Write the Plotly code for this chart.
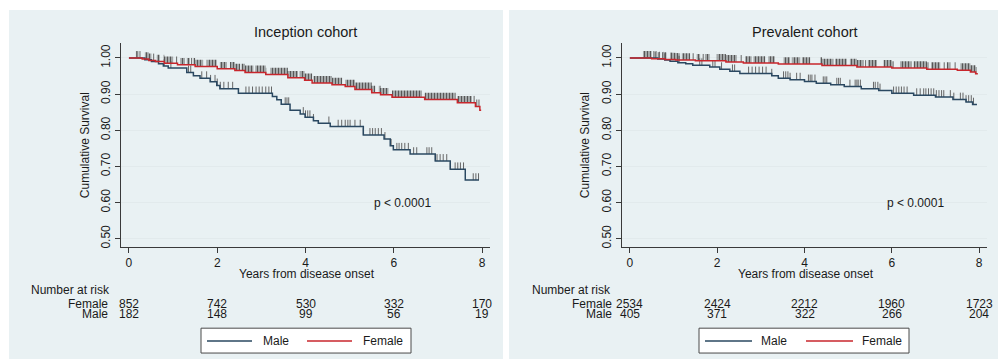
import plotly.graph_objects as go

W, H = 998, 363

# ---------------- data ----------------
inc_male_t = [0, 0.36, 0.51, 0.67, 0.78, 0.89, 1.31, 1.46, 1.61, 1.84, 1.99, 2.06, 2.48, 3.25, 3.35,
              3.45, 3.65, 3.88, 3.99, 4.18, 4.29, 4.56, 5.31, 5.78, 5.92, 5.99, 6.37, 6.94, 7.28, 7.62]
inc_male_s = [1.0, 0.995, 0.99, 0.984, 0.978, 0.972, 0.96, 0.951, 0.944, 0.934, 0.924, 0.915, 0.902, 0.893, 0.884,
              0.872, 0.855, 0.845, 0.836, 0.826, 0.819, 0.81, 0.787, 0.776, 0.757, 0.746, 0.734, 0.715, 0.692, 0.662]
inc_male_end = 7.93
inc_male_cens = [0.8, 0.95, 1.35, 1.4, 1.65, 1.76, 1.85, 1.95, 2.0, 2.07, 2.15, 2.25, 2.35, 2.65, 2.72, 2.8,
                 2.88, 2.95, 3.02, 3.1, 3.17, 3.23, 3.54, 3.58, 3.62, 3.95, 4.0, 4.05, 4.1, 4.18, 4.53, 4.74,
                 4.82, 4.9, 4.96, 5.01, 5.12, 5.24, 5.31, 5.46, 5.52, 5.58, 5.65, 5.72, 5.8, 5.94, 6.07, 6.12,
                 6.18, 6.25, 6.33, 6.45, 6.52, 6.75, 6.8, 6.86, 6.94, 6.98, 7.05, 7.12, 7.2, 7.28, 7.39, 7.45,
                 7.51, 7.58, 7.8, 7.86, 7.92]
inc_male_blocks = []

inc_fem_t = [0, 0.3, 0.45, 0.6, 0.8, 1.1, 1.5, 2.0, 2.4, 2.63, 3.1, 3.6, 3.98, 4.15, 4.6, 4.9, 5.12,
             5.5, 5.7, 5.96, 6.7, 7.44, 7.85, 7.95]
inc_fem_s = [1.0, 0.997, 0.993, 0.99, 0.985, 0.981, 0.976, 0.97, 0.965, 0.96, 0.954, 0.945, 0.938, 0.931,
             0.926, 0.921, 0.913, 0.904, 0.898, 0.891, 0.885, 0.876, 0.866, 0.855]
inc_fem_end = 7.98
inc_fem_cens = [0.17, 0.2, 0.25, 0.56, 1.08, 1.42, 7.82, 7.88, 7.93]
inc_fem_blocks = [[0.36, 0.51], [0.63, 0.70], [0.78, 1.0], [1.16, 1.27], [1.31, 1.38], [1.46, 1.68],
                  [1.76, 1.99], [2.06, 2.22], [2.29, 2.52], [2.55, 2.82], [2.86, 3.11], [3.2, 3.83],
                  [3.87, 4.15], [4.18, 4.83], [4.9, 5.58], [5.66, 5.88], [5.96, 6.64], [6.7, 7.4],
                  [7.44, 7.77]]

prev_male_t = [0, 0.64, 0.8, 0.92, 1.1, 1.28, 1.44, 1.83, 2.06, 2.29, 2.52, 3.25, 3.4, 3.67, 4.0, 4.27,
               4.6, 4.91, 5.3, 5.7, 6.0, 6.5, 7.0, 7.4, 7.7, 7.85]
prev_male_s = [1.0, 0.997, 0.994, 0.991, 0.987, 0.984, 0.98, 0.975, 0.969, 0.963, 0.957, 0.951, 0.944,
               0.94, 0.935, 0.93, 0.926, 0.921, 0.915, 0.91, 0.902, 0.897, 0.892, 0.885, 0.878, 0.871]
prev_male_end = 7.95
prev_male_cens = [0.55, 0.6, 0.65, 0.75, 0.8, 1.1, 1.13, 1.6, 1.65, 1.9, 1.95, 2.1, 2.35, 2.4, 2.72, 2.8,
                  2.88, 2.96, 3.04, 3.12, 3.25, 3.52, 3.57, 3.62, 3.67, 3.82, 3.9, 4.09, 4.13, 4.17, 4.24,
                  4.43, 4.47, 4.51, 4.74, 4.78, 4.82, 5.04, 5.16, 5.2, 5.23, 5.28, 5.58, 5.62, 5.68, 5.73,
                  6.04, 6.1, 6.16, 6.22, 6.28, 6.35, 6.57, 6.65, 6.73, 6.78, 6.84, 6.9, 6.96, 7.02, 7.08,
                  7.14, 7.19, 7.34, 7.42, 7.57, 7.63, 7.7, 7.76, 7.82, 7.87]
prev_male_blocks = []

prev_fem_t = [0, 0.5, 0.8, 1.05, 1.5, 2.2, 2.6, 3.4, 4.4, 5.2, 6.0, 6.8, 7.5, 7.8, 7.92]
prev_fem_s = [1.0, 0.998, 0.996, 0.994, 0.992, 0.989, 0.986, 0.983, 0.979, 0.975, 0.972, 0.969, 0.966,
              0.961, 0.956]
prev_fem_end = 7.97
prev_fem_cens = [0.58, 0.68, 1.45, 1.68, 2.55, 5.4, 7.2, 7.45]
prev_fem_blocks = [[0.30, 0.50], [0.76, 0.84], [0.92, 1.15], [1.19, 1.38], [1.53, 1.61], [1.72, 1.83],
                   [1.99, 2.45], [2.64, 2.79], [2.83, 3.10], [3.17, 3.32], [3.52, 3.67], [3.71, 3.90],
                   [3.94, 4.13], [4.36, 4.66], [4.70, 4.97], [5.04, 5.35], [5.45, 5.66], [5.81, 6.04],
                   [6.19, 6.45], [6.5, 6.85], [6.9, 7.11], [7.26, 7.34], [7.57, 7.95]]

risk_times = [0, 2, 4, 6, 8]
inc_risk_female = [852, 742, 530, 332, 170]
inc_risk_male = [182, 148, 99, 56, 19]
prev_risk_female = [2534, 2424, 2212, 1960, 1723]
prev_risk_male = [405, 371, 322, 266, 204]

panel_titles = ["Inception cohort", "Prevalent cohort"]
p_text = "p < 0.0001"
y_ticks = [0.5, 0.6, 0.7, 0.8, 0.9, 1.0]
y_ticktext = ["0.50", "0.60", "0.70", "0.80", "0.90", "1.00"]
x_ticks = [0, 2, 4, 6, 8]

# ---------------- style ----------------
FONT = "Liberation Sans, Arial, sans-serif"
MALE_C = "#2a4861"
FEM_C = "#c8262c"
CENS_C = "#666666"
PANEL_BG = "#e9f1f3"
GRID_C = "#e2eaec"
AX_C = "#3a3a3a"
TXT_C = "#1a1a1a"
TICK_H = 0.019


def S_at(ts, ss, t):
    v = ss[0]
    for ti, si in zip(ts, ss):
        if ti <= t:
            v = si
        else:
            break
    return v


def cens_segments(ts, ss, cens):
    xs, ys = [], []
    for c in cens:
        s = S_at(ts, ss, c)
        xs += [c, c, None]
        ys += [s, s + TICK_H, None]
    return xs, ys


def block_polys(ts, ss, blocks):
    xs, ys = [], []
    for a, b in blocks:
        bx, by = [a], [S_at(ts, ss, a)]
        for ti in ts:
            if a < ti < b:
                bx.append(ti)
                by.append(by[-1])
                bx.append(ti)
                by.append(S_at(ts, ss, ti))
        bx.append(b)
        by.append(by[-1])
        tx = bx[::-1]
        ty = [v + TICK_H for v in by[::-1]]
        xs += bx + tx + [bx[0], None]
        ys += by + ty + [by[0], None]
    return xs, ys


fig = go.Figure()


def px(x):
    return x / W


def py(y):
    return 1 - y / H


panels = [
    dict(xa="x", ya="y", off=0, xdom=(121, 490),
         male=(inc_male_t, inc_male_s, inc_male_end, inc_male_cens, inc_male_blocks),
         fem=(inc_fem_t, inc_fem_s, inc_fem_end, inc_fem_cens, inc_fem_blocks),
         rf=inc_risk_female, rm=inc_risk_male, ptx=6.19, title_x=305.5, nar_x=29, lab_x=110,
         leg=(201, 411, 207, 252, 261, 307, 352, 361)),
    dict(xa="x2", ya="y2", off=500, xdom=(622, 987),
         male=(prev_male_t, prev_male_s, prev_male_end, prev_male_cens, prev_male_blocks),
         fem=(prev_fem_t, prev_fem_s, prev_fem_end, prev_fem_cens, prev_fem_blocks),
         rf=prev_risk_female, rm=prev_risk_male, ptx=6.54, title_x=805, nar_x=530, lab_x=614,
         leg=(699, 909, 705, 752, 759, 806, 853, 860)),
]

shapes = []
annotations = []

# panel backgrounds
shapes.append(dict(type="rect", xref="paper", yref="paper", x0=px(9), x1=px(503), y0=py(361), y1=py(10),
                   fillcolor=PANEL_BG, line=dict(width=0), layer="below"))
shapes.append(dict(type="rect", xref="paper", yref="paper", x0=px(509), x1=px(998), y0=py(361), y1=py(10),
                   fillcolor=PANEL_BG, line=dict(width=0), layer="below"))

for i, p in enumerate(panels):
    xa, ya = p["xa"], p["ya"]
    # censor blocks + ticks
    for key in ("male", "fem"):
        ts, ss, te, cens, blocks = p[key]
        if blocks:
            bx, by = block_polys(ts, ss, blocks)
            fig.add_trace(go.Scatter(x=bx, y=by, xaxis=xa, yaxis=ya, mode="lines", fill="toself",
                                     line=dict(width=0, color="rgba(0,0,0,0)"),
                                     fillcolor="rgba(0,0,0,0)",
                                     fillpattern=dict(shape="|", size=3, solidity=0.65, fgcolor="#575757",
                                                      fgopacity=1, bgcolor="rgba(255,255,255,0)"),
                                     hoverinfo="skip", showlegend=False))
        cx, cy = cens_segments(ts, ss, cens)
        fig.add_trace(go.Scatter(x=cx, y=cy, xaxis=xa, yaxis=ya, mode="lines",
                                 line=dict(width=1, color=CENS_C), hoverinfo="skip", showlegend=False))
    # survival steps
    for key, col in (("male", MALE_C), ("fem", FEM_C)):
        ts, ss, te, cens, blocks = p[key]
        fig.add_trace(go.Scatter(x=list(ts) + [te], y=list(ss) + [ss[-1]], xaxis=xa, yaxis=ya,
                                 mode="lines", line=dict(shape="hv", width=1.5, color=col),
                                 showlegend=False))

    # title
    annotations.append(dict(text=panel_titles[i], xref="paper", yref="paper", x=px(p["title_x"]), y=py(32),
                            showarrow=False, xanchor="center", yanchor="middle",
                            font=dict(size=14.5, color=TXT_C, family=FONT)))
    # y title
    annotations.append(dict(text="Cumulative Survival", xref="paper", yref="paper", x=px(85 + p["off"]),
                            y=py(146), textangle=-90, showarrow=False, xanchor="center", yanchor="middle",
                            font=dict(size=12, color=TXT_C, family=FONT)))
    # x title
    xc = (p["xdom"][0] + p["xdom"][1]) / 2
    annotations.append(dict(text="Years from disease onset", xref="paper", yref="paper", x=px(xc + 1),
                            y=py(276), showarrow=False, xanchor="center", yanchor="middle",
                            font=dict(size=12, color=TXT_C, family=FONT)))
    # p value
    annotations.append(dict(text=p_text, xref=xa, yref=ya, x=p["ptx"], y=0.6, showarrow=False,
                            xanchor="center", yanchor="middle",
                            font=dict(size=12, color=TXT_C, family=FONT)))
    # number at risk
    annotations.append(dict(text="Number at risk", xref="paper", yref="paper", x=px(p["nar_x"]), y=py(292),
                            showarrow=False, xanchor="left", yanchor="middle",
                            font=dict(size=12, color=TXT_C, family=FONT)))
    for lab, yy, vals in (("Female", 305.5, p["rf"]), ("Male", 316, p["rm"])):
        annotations.append(dict(text=lab, xref="paper", yref="paper", x=px(p["lab_x"]), y=py(yy),
                                showarrow=False, xanchor="right", yanchor="middle",
                                font=dict(size=12, color=TXT_C, family=FONT)))
        for t, v in zip(risk_times, vals):
            annotations.append(dict(text=str(v), xref=xa, yref="paper", x=t, y=py(yy), showarrow=False,
                                    xanchor="center", yanchor="middle",
                                    font=dict(size=12, color=TXT_C, family=FONT)))
    # legend box
    bx0, bx1, m0, m1, mt, f0, f1, ft = p["leg"]
    shapes.append(dict(type="rect", xref="paper", yref="paper", x0=px(bx0), x1=px(bx1), y0=py(355),
                       y1=py(330), fillcolor="white", line=dict(color="#4a4a4a", width=1)))
    shapes.append(dict(type="line", xref="paper", yref="paper", x0=px(m0), x1=px(m1), y0=py(343), y1=py(343),
                       line=dict(color=MALE_C, width=1.5)))
    shapes.append(dict(type="line", xref="paper", yref="paper", x0=px(f0), x1=px(f1), y0=py(343), y1=py(343),
                       line=dict(color=FEM_C, width=1.5)))
    annotations.append(dict(text="Male", xref="paper", yref="paper", x=px(mt), y=py(343), showarrow=False,
                            xanchor="left", yanchor="middle", font=dict(size=12, color=TXT_C, family=FONT)))
    annotations.append(dict(text="Female", xref="paper", yref="paper", x=px(ft), y=py(343), showarrow=False,
                            xanchor="left", yanchor="middle", font=dict(size=12, color=TXT_C, family=FONT)))

xcommon = dict(range=[-0.18, 8.18], tickvals=x_ticks, ticks="outside", ticklen=5, tickcolor=AX_C,
               showline=True, linecolor=AX_C, linewidth=1, showgrid=False, zeroline=False,
               tickfont=dict(size=12, color=TXT_C, family=FONT), fixedrange=True)
ycommon = dict(range=[0.478, 1.042], tickvals=y_ticks, ticktext=y_ticktext, tickangle=-90, ticks="outside",
               ticklen=5, tickcolor=AX_C, showline=True, linecolor=AX_C, linewidth=1, showgrid=True,
               gridcolor=GRID_C, gridwidth=1, zeroline=False,
               tickfont=dict(size=12, color=TXT_C, family=FONT), fixedrange=True)

fig.update_layout(
    width=W, height=H, autosize=False,
    margin=dict(l=0, r=0, t=0, b=0),
    paper_bgcolor="white", plot_bgcolor="white",
    showlegend=False,
    xaxis=dict(domain=[px(121), px(490)], anchor="y", **xcommon),
    yaxis=dict(domain=[py(248), py(43)], anchor="x", **ycommon),
    xaxis2=dict(domain=[px(622), px(987)], anchor="y2", **xcommon),
    yaxis2=dict(domain=[py(248), py(43)], anchor="x2", **ycommon),
    shapes=shapes, annotations=annotations,
    font=dict(family=FONT),
)

fig.write_html("out.html", config={"displayModeBar": False},
               post_script="document.body.style.margin='0px';document.body.style.overflow='hidden';")
